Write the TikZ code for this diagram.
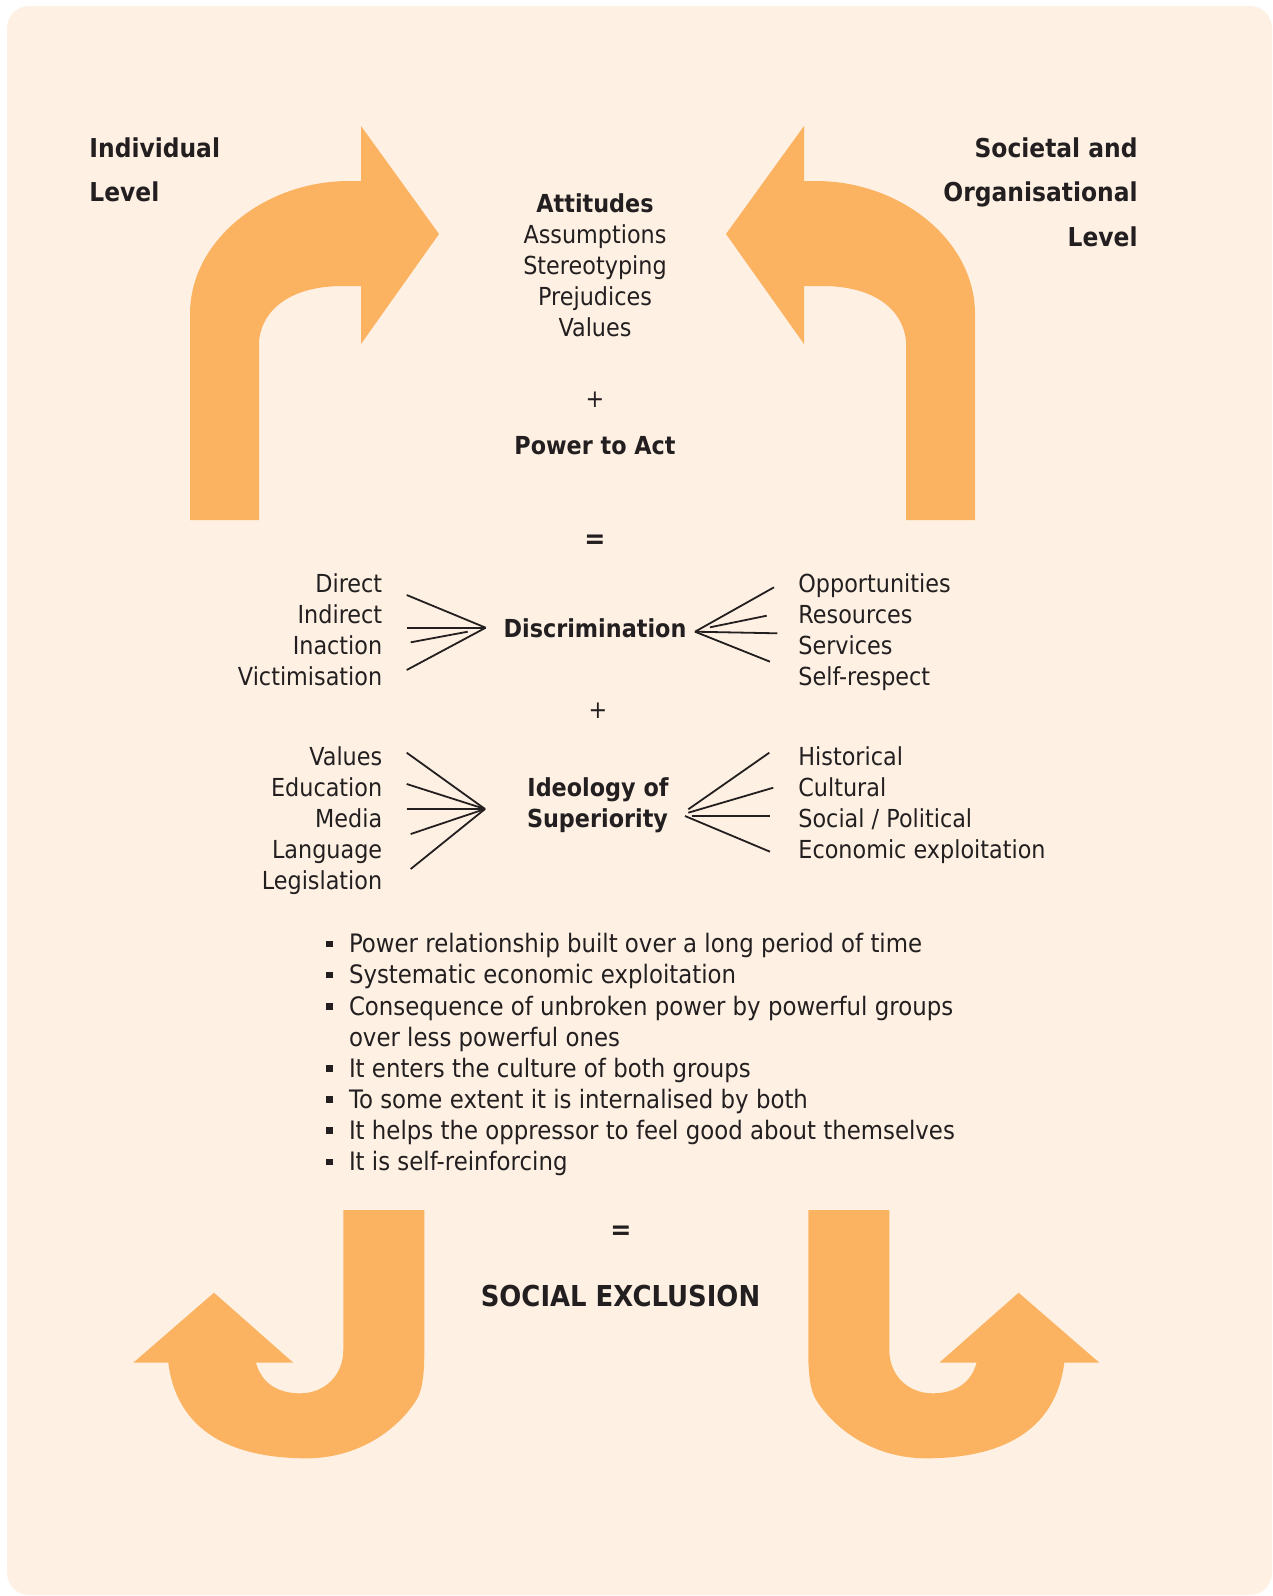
\documentclass[tikz,border=0pt]{standalone}
\usepackage{fontspec}
\setmainfont{DejaVu Sans}[FakeStretch=0.9]
\usepackage{xcolor}
\usepackage{tikz}
\usetikzlibrary{positioning,calc}

\definecolor{paper}{HTML}{FEF1E3}
\definecolor{peach}{HTML}{FBB362}
\definecolor{ink}{HTML}{231F20}

\begin{document}
\begin{tikzpicture}[x=0.5pt,y=-0.5pt,
	lbl/.style={inner sep=0pt,text=ink,font=\fontsize{12.4}{15.5}\selectfont},
	boldlbl/.style={lbl,font=\fontsize{12.4}{15.5}\selectfont\bfseries},
	itemlbl/.style={lbl,font=\fontsize{12.7}{15.5}\selectfont},
	hdr/.style={lbl,font=\fontsize{13}{20}\selectfont\bfseries},
	fan/.style={draw=ink,line width=0.9pt},
	bigarrow/.style={fill=peach}]
	
	\useasboundingbox (0,0) rectangle (1273,1596);
	
	% background
	\fill[paper,rounded corners=11pt] (7,6) rectangle (1272,1595);
	
	% top arrows (the right one is the mirror)
	\foreach \s/\o in {1/0,-1/1165} {
		\begin{scope}[shift={(\o,0)},xscale=\s]
			\fill[bigarrow] (190,520) -- (190,314) .. controls (190,240) and (265,181) .. (349,181)
				-- (361,181) -- (361,126) -- (439,234) -- (361,344) -- (361,286) -- (343,286)
				.. controls (290,286) and (262,310) .. (259,341) -- (259,520) -- cycle;
		\end{scope}
	}
	
	% bottom arrows
	\foreach \s/\o in {1/0,-1/1232.6} {
		\begin{scope}[shift={(\o,0)},xscale=\s]
			\fill[bigarrow] (343.3,1210) -- (424.3,1210) -- (424.3,1353)
				.. controls (424.3,1380) and (421,1393) .. (416,1400.7)
				.. controls (395,1433) and (355,1458.3) .. (306.7,1458.3)
				.. controls (245,1458.3) and (178,1440) .. (168.3,1362.7)
				-- (133.3,1362.7) -- (214,1292.7) -- (293.3,1362.7) -- (256,1362.7)
				.. controls (262,1385) and (280,1393.3) .. (300,1393.3)
				.. controls (325,1393.3) and (343.3,1375) .. (343.3,1350) -- cycle;
		\end{scope}
	}
	
	% level headings
	\node[hdr,anchor=base west] (indiv1) at (89,157) {Individual};
	\node[hdr,anchor=base west] (indiv2) at (89,201.7) {Level};
	\node[hdr,anchor=base east] (soc1) at (1138,157) {Societal and};
	\node[hdr,anchor=base east] (soc2) at (1138,201.7) {Organisational};
	\node[hdr,anchor=base east] (soc3) at (1138,246.4) {Level};
	
	% attitudes + power
	\node[boldlbl,anchor=base] (att) at (595,212.8) {Attitudes};
	\foreach \t [count=\i] in {Assumptions,Stereotyping,Prejudices,Values} {
		\node[lbl,anchor=base] (att\i) at (595,{212.8+31*\i}) {\t};
	}
	\node[lbl] (plus1) at (595,400) {+};
	\node[boldlbl,anchor=base] (power) at (595,454.3) {Power to Act};
	\node[boldlbl,font=\fontsize{14}{16}\selectfont\bfseries] (eq1) at (595,542) {=};
	
	% discrimination
	\node[boldlbl,anchor=base] (disc) at (595,637.5) {Discrimination};
	\foreach \t [count=\i] in {Direct,Indirect,Inaction,Victimisation} {
		\node[lbl,anchor=base east] (dl\i) at (382.6,{561.7+31*\i}) {\t};
	}
	\foreach \t [count=\i] in {Opportunities,Resources,Services,Self-respect} {
		\node[lbl,anchor=base west] (dr\i) at (798,{561.7+31*\i}) {\t};
	}
	\coordinate (dlc) at (485.7,627.7);
	\coordinate (drc) at (695,631.7);
	\foreach \y [count=\i] in {595,627.7,670} {
		\coordinate (dlf\i) at (406.7,\y);
		\draw[fan] (dlf\i) -- (dlc);
	}
	\coordinate (dls1) at (410.7,642.3);
	\coordinate (dls2) at (467.7,631.7);
	\draw[fan] (dls1) -- (dls2);
	\foreach \x/\y [count=\i] in {774/587.3,777.3/633.3,770/661.7} {
		\coordinate (drf\i) at (\x,\y);
		\draw[fan] (drc) -- (drf\i);
	}
	\coordinate (drs1) at (710,627.3);
	\coordinate (drs2) at (766.7,615.7);
	\draw[fan] (drs1) -- (drs2);
	
	\node[lbl] (plus2) at (598,711) {+};
	
	% ideology of superiority
	\node[boldlbl,anchor=base] (ideo1) at (598,796.7) {Ideology of};
	\node[boldlbl,anchor=base] (ideo2) at (597.5,827.7) {Superiority};
	\foreach \t [count=\i] in {Values,Education,Media,Language,Legislation} {
		\node[lbl,anchor=base east] (il\i) at (382.6,{733.8+31.2*\i}) {\t};
	}
	\foreach \t [count=\i] in {Historical,Cultural,Social / Political,Economic exploitation} {
		\node[lbl,anchor=base west] (ir\i) at (798,{733.8+31.2*\i}) {\t};
	}
	\coordinate (ilc) at (485,809);
	\foreach \x/\y [count=\i] in {406.7/752.7,406.7/784,406.7/809,410.7/834,410.7/869} {
		\coordinate (ilf\i) at (\x,\y);
		\draw[fan] (ilf\i) -- (ilc);
	}
	\foreach \a/\b/\c/\d [count=\i] in {688.3/809.3/769.3/752.7,688.3/812.7/773.3/787.7,691.7/816/770/816,685/816/770/851.7} {
		\coordinate (irs\i) at (\a,\b);
		\coordinate (ire\i) at (\c,\d);
		\draw[fan] (irs\i) -- (ire\i);
	}
	
	% bullet list
	\foreach \t/\b [count=\i] in {Power relationship built over a long period of time/1,
		Systematic economic exploitation/1,
		Consequence of unbroken power by powerful groups/1,
		over less powerful ones/0,
		It enters the culture of both groups/1,
		To some extent it is internalised by both/1,
		It helps the oppressor to feel good about themselves/1,
		It is self-reinforcing/1} {
		\node[itemlbl,anchor=base west] (pt\i) at (348.6,{921.7+31.1*\i}) {\t};
		\ifnum\b=1 \fill[ink] (326,{921.7+31.1*\i-5.5}) rectangle ++(6.5,-6.5); \fi
	}
	
	% result
	\node[boldlbl,font=\fontsize{14}{16}\selectfont\bfseries] (eq2) at (621,1233) {=};
	\node[lbl,anchor=base,font=\fontsize{14.4}{18}\selectfont\bfseries] (excl) at (620.5,1306) {SOCIAL EXCLUSION};
\end{tikzpicture}
\end{document}
